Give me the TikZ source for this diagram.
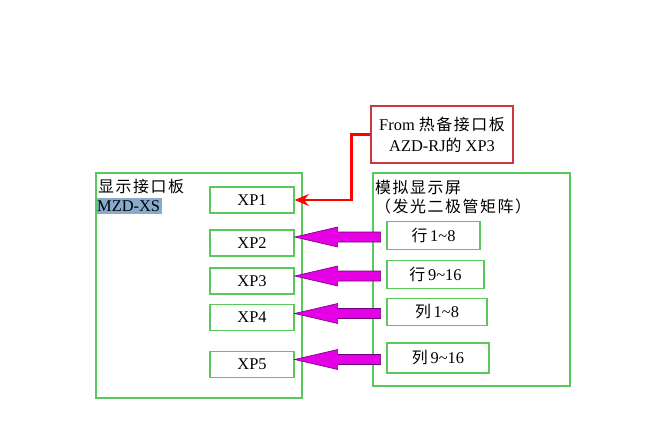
\documentclass[tikz,border=0pt]{standalone}
\usepackage{fontspec}
\setmainfont{Liberation Serif}
\newfontfamily\cjk[Scale=0.97, LetterSpace=10]{Noto Sans CJK SC}
\usepackage{tikz}
\usetikzlibrary{arrows.meta, positioning, calc}

\definecolor{boxgreen}{RGB}{90,200,90}
\definecolor{boxred}{RGB}{205,55,65}
\definecolor{arrowmag}{RGB}{230,0,230}
\definecolor{arrowedge}{RGB}{110,0,120}
\definecolor{selblue}{RGB}{135,170,205}

\begin{document}
\begin{tikzpicture}[
  x=0.03cm, y=-0.03cm,
  every node/.style={font=\fontsize{14}{18}\selectfont},
  frame/.style={draw=boxgreen, line width=1.1pt},
  port/.style={draw=boxgreen, line width=1.1pt, minimum width=2.52cm, minimum height=0.78cm, inner sep=0pt},
  line/.style={draw=boxgreen, line width=1.1pt, minimum height=0.82cm, inner sep=0pt},
  fat/.style={fill=arrowmag, draw=arrowedge, line width=0.5pt},
  label/.style={inner sep=0pt, anchor=west}
]
\useasboundingbox (0,0) rectangle (670,426);

% interface board
\draw[frame] (96,173) rectangle (302,398);
\node[label] (board) at (98,186) {{\cjk 显示接口板}};
\fill[selblue] (97,198) rectangle (162,214);
\node[label] (boardid) at (97,206.5) {MZD-XS};

\node[port] (xp1) at (252,200) {XP1};
\node[port] (xp2) at (252,243) {XP2};
\node[port] (xp3) at (252,281) {XP3};
\node[port] (xp4) at (252,317.5) {XP4};
\node[port] (xp5) at (252,364.5) {XP5};

% display screen
\draw[frame] (373,173) rectangle (570,386);
\node[label] (screen) at (375,187) {{\cjk 模拟显示屏}};
\node[label] (matrix) at (375,206) {{\cjk （发光二极管矩阵）}};

\node[line, minimum width=2.79cm] (row1) at (433.5,235.5) {{\cjk 行}\,1\textasciitilde 8};
\node[line, minimum width=2.91cm] (row2) at (435.5,274.5) {{\cjk 行}\,9\textasciitilde 16};
\node[line, minimum width=3.0cm] (col1) at (437,312) {{\cjk 列}\,1\textasciitilde 8};
\node[line, minimum width=3.06cm, minimum height=0.9cm] (col2) at (438,358) {{\cjk 列}\,9\textasciitilde 16};

% source board
\node[draw=boxred, line width=1.1pt, minimum width=4.26cm, minimum height=1.71cm, align=center] (src) at (442,134.5)
  {From {\cjk 热备接口板}\\AZD-RJ{\cjk 的} XP3};
\coordinate (bend) at ($(src.west)+(-19,0)$);
\draw[red, line width=2pt, -{Stealth[length=12pt, width=10pt]}] (src.west) -- (bend) |- (xp1.east);

% fat arrows
\foreach \s/\t in {row1/xp2, row2/xp3, col1/xp4, col2/xp5}{
  \coordinate (tip) at (\t.east |- \s.west);
  \draw[fat] ($(tip)+(0,1.5)$) -- ++(43,-10) -- ++(0,5) -- ++(43,0) -- ++(0,10) -- ++(-43,0) -- ++(0,5) -- cycle;
}
\end{tikzpicture}
\end{document}
